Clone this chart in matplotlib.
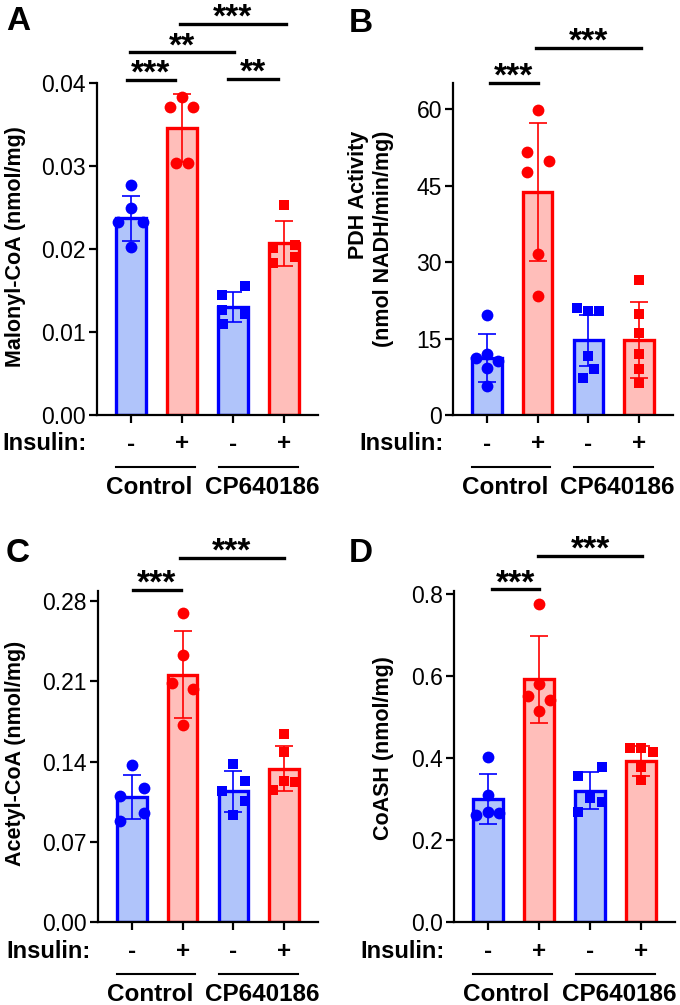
import numpy as np
import matplotlib
matplotlib.use("Agg")
import matplotlib.pyplot as plt
import matplotlib.transforms as mtransforms

plt.rcParams['font.family'] = ['Liberation Sans', 'DejaVu Sans']

insulin = ['-', '+', '-', '+']
groups = ['Control', 'CP640186']

# A: malonyl-CoA
a_mean = [0.0237, 0.0346, 0.0130, 0.0207]
a_sd = [0.0027, 0.0041, 0.0018, 0.0027]
a_pts = [[0.0277, 0.0249, 0.0233, 0.0233, 0.0203],
         [0.0383, 0.0371, 0.0371, 0.0304, 0.0304],
         [0.0155, 0.0145, 0.0127, 0.0122, 0.0110],
         [0.0253, 0.0205, 0.0201, 0.0190, 0.0183]]
a_sig = [(0, 1, '***'), (0, 2, '**'), (1, 3, '***'), (2, 3, '**')]

# B: PDH activity
b_mean = [11.2, 43.7, 14.7, 14.7]
b_sd = [4.7, 13.6, 5.0, 7.4]
b_pts = [[19.7, 11.2, 11.9, 10.6, 9.3, 5.6],
         [59.8, 51.6, 49.9, 47.7, 31.6, 23.4],
         [20.9, 20.3, 20.3, 11.6, 9.1, 7.2],
         [26.5, 19.8, 16.1, 11.9, 9.1, 6.3]]
b_sig = [(0, 1, '***'), (1, 3, '***')]

# C: acetyl-CoA
c_mean = [0.109, 0.216, 0.114, 0.134]
c_sd = [0.019, 0.038, 0.018, 0.020]
c_pts = [[0.137, 0.117, 0.110, 0.095, 0.088],
         [0.270, 0.233, 0.209, 0.203, 0.172],
         [0.138, 0.123, 0.114, 0.106, 0.093],
         [0.164, 0.148, 0.123, 0.122, 0.115]]
c_sig = [(0, 1, '***'), (1, 3, '***')]

# D: CoASH
d_mean = [0.300, 0.592, 0.320, 0.393]
d_sd = [0.061, 0.106, 0.045, 0.036]
d_pts = [[0.403, 0.310, 0.261, 0.269, 0.266],
         [0.776, 0.580, 0.551, 0.541, 0.515],
         [0.379, 0.356, 0.293, 0.269, 0.303],
         [0.424, 0.424, 0.415, 0.379, 0.346]]
d_sig = [(0, 1, '***'), (1, 3, '***')]

edge = ['#0000ff', '#ff0000', '#0000ff', '#ff0000']
fill = ['#b0c4fa', '#ffbeba', '#b0c4fa', '#ffbeba']
mark = ['o', 'o', 's', 's']

W, H = 680, 1005
fig = plt.figure(figsize=(W / 100, H / 100), dpi=100)


def make_ax(l, t, r, b):
    return fig.add_axes([l / W, 1 - b / H, (r - l) / W, (b - t) / H])


def panel(ax, mean, sd, pts, offs, ylim, yticks, ylabel, ylab_pos,
          sig, sig_span, ins_x, tickfmt):
    x = np.arange(4)
    ax.bar(x, mean, width=0.58, color=fill, edgecolor=edge, linewidth=2.4, zorder=2)
    for i in range(4):
        ax.errorbar(x[i], mean[i], yerr=sd[i], fmt='none', ecolor=edge[i],
                    elinewidth=1.2, capsize=6.5, capthick=1.2, zorder=3)
        ms = 8.5 if mark[i] == 'o' else 7.8
        ax.plot(x[i] + np.array(offs[i]), pts[i], linestyle='none', marker=mark[i],
                ms=ms, color=edge[i], markeredgewidth=0, zorder=4, clip_on=False)
    ax.set_xlim(-0.67, 3.67)
    ax.set_ylim(*ylim)
    ax.set_yticks(yticks)
    ax.set_yticklabels([tickfmt.format(v) for v in yticks], fontsize=16.5)
    ax.set_xticks(x)
    ax.set_xticklabels([])
    for s in ['top', 'right']:
        ax.spines[s].set_visible(False)
    for s in ['left', 'bottom']:
        ax.spines[s].set_linewidth(1.6)
    ax.tick_params(length=6, width=1.6, pad=2)

    hpx = ax.get_position().height * H
    tr = mtransforms.blended_transform_factory(ax.transData, ax.transAxes)
    for i in range(4):
        ax.text(x[i], -29 / hpx, insulin[i], transform=tr, ha='center', va='center',
                fontsize=17.5, fontweight='bold')
    ax.text(ins_x, -29 / hpx, 'Insulin:', transform=tr, ha='right', va='center',
            fontsize=17, fontweight='bold')
    for (x0, x1), xc, name in zip([(-0.3, 1.25), (1.72, 3.27)], [0.35, 2.58], groups):
        ax.plot([x0, x1], [-52 / hpx] * 2, transform=tr, color='black', lw=1.5, clip_on=False)
        ax.text(xc, -72 / hpx, name, transform=tr, ha='center', va='center',
                fontsize=17.5, fontweight='bold')

    ax.text(ylab_pos[0], ylab_pos[1], ylabel, transform=ax.transAxes, rotation=90,
            ha='center', va='center', fontsize=15.5, fontweight='bold',
            multialignment='right')

    for (i, j, lab), (x0, x1, yy) in zip(sig, sig_span):
        ax.plot([x0, x1], [yy, yy], color='black', lw=2.4, clip_on=False)
        ax.annotate(lab, ((x0 + x1) / 2, yy), xytext=(0, -2), textcoords='offset points',
                    ha='center', va='baseline', fontsize=24, fontweight='bold',
                    annotation_clip=False)
    return ax


axA = make_ax(97, 83, 318, 415)
axB = make_ax(453, 83, 673, 415)
axC = make_ax(98, 591, 318, 922)
axD = make_ax(454, 591, 675, 922)

panel(axA, a_mean, a_sd, a_pts,
      [[0, 0, -0.25, 0.23, 0], [0, -0.23, 0.21, -0.11, 0.12],
       [0.24, -0.22, -0.22, 0.24, -0.2], [0, 0.21, -0.21, 0.21, -0.21]],
      (0, 0.04), [0, 0.01, 0.02, 0.03, 0.04], 'Malonyl-CoA (nmol/mg)', (-0.37, 0.507),
      a_sig, [(-0.08, 0.86, 0.0404), (-0.02, 2.02, 0.0437), (0.96, 3.04, 0.0471),
              (1.90, 2.88, 0.0405)], -0.88, '{:.2f}')

panel(axB, b_mean, b_sd, b_pts,
      [[0, -0.22, 0, 0.21, 0, 0], [0, -0.22, 0.22, -0.22, 0, 0],
       [-0.23, 0, 0.22, 0, 0.11, -0.11], [0, 0, 0, 0, 0, 0]],
      (0, 65.1), [0, 15, 30, 45, 60], 'PDH Activity\n(nmol NADH/min/mg)', (-0.373, 0.53),
      b_sig, [(0.06, 1.0, 65.1), (0.96, 3.04, 72.0)], -0.86, '{:.0f}')

panel(axC, c_mean, c_sd, c_pts,
      [[0, 0.23, -0.23, 0.23, -0.23], [0, 0, -0.22, 0.21, 0],
       [0, 0.23, -0.23, 0.23, 0], [0, 0, 0, 0.21, -0.22]],
      (0, 0.289), [0, 0.07, 0.14, 0.21, 0.28], 'Acetyl-CoA (nmol/mg)', (-0.375, 0.51),
      c_sig, [(0.02, 0.96, 0.290), (0.94, 3.0, 0.318)], -0.82, '{:.2f}')

panel(axD, d_mean, d_sd, d_pts,
      [[0, 0, -0.24, 0, 0.22], [0, 0, -0.22, 0.21, 0],
       [0.24, -0.23, 0.24, -0.23, 0], [-0.21, 0, 0.23, 0, 0]],
      (0, 0.807), [0, 0.2, 0.4, 0.6, 0.8], 'CoASH (nmol/mg)', (-0.317, 0.524),
      d_sig, [(0.08, 1.0, 0.811), (0.98, 3.03, 0.893)], -0.86, '{:.1f}')

for lx, ly, lab in [(6, 6, 'A'), (349, 8, 'B'), (6, 538, 'C'), (349, 538, 'D')]:
    fig.text(lx / W, 1 - ly / H, lab, ha='left', va='top', fontsize=24, fontweight='bold')

fig.savefig('out.png', dpi=100)
